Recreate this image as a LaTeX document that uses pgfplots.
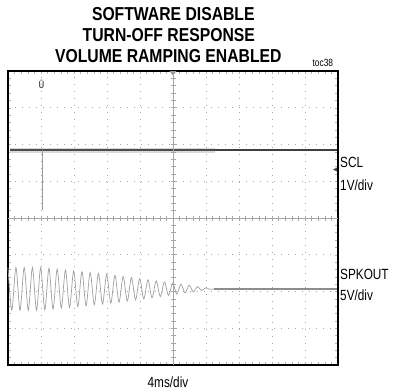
\documentclass[border=0pt]{standalone}
\usepackage{fontspec}
\setmainfont{Liberation Sans}[FakeStretch=0.80]
\newfontfamily\titlefont{Liberation Sans}[FakeStretch=0.84]
\usepackage{pgfplots}
\pgfplotsset{compat=1.18}
\begin{document}
\begin{tikzpicture}[x=1bp,y=1bp]
\path[use as bounding box] (-8,-26) rectangle (386,365);
\begin{axis}[
  at={(0,0)}, anchor=south west,
  scale only axis, width=330bp, height=294bp,
  xmin=0, xmax=10, ymin=0, ymax=8,
  xtick={0,...,10}, ytick={0,...,8},
  xticklabels={}, yticklabels={},
  minor x tick num=4, minor y tick num=4,
  tick align=inside,
  major tick length=3bp, minor tick length=3bp,
  tick style={gray!60, line width=0.5bp},
  grid=major,
  major grid style={gray!70, line width=0.7bp, dash pattern=on 0.7bp off 6.3bp},
  axis line style={black, line width=1.6bp},
  clip=false,
]
% SCL trace: noisy band, core and spike
\addplot[gray!30, line width=5bp] coordinates {(0.05,5.85) (6.27,5.85)};
\addplot[black!70, line width=2.6bp] coordinates {(0.05,5.85) (6.27,5.85)};
\addplot[black!75, line width=2.2bp] coordinates {(6.27,5.85) (9.98,5.85)};
\addplot[gray!80, line width=0.6bp] coordinates {(1.03,5.85) (1.03,4.22)};
% SPKOUT trace
\addplot[gray!75, line width=0.7bp, smooth] coordinates {
(0.00,2.65) (0.115,1.49) (0.24,2.65) (0.365,1.49) (0.49,2.65) (0.615,1.49)
(0.74,2.65) (0.865,1.49) (0.99,2.65) (1.115,1.50) (1.24,2.63) (1.365,1.52)
(1.49,2.61) (1.615,1.55) (1.74,2.58) (1.865,1.57) (1.99,2.56) (2.115,1.59)
(2.24,2.54) (2.365,1.61) (2.49,2.52) (2.615,1.64) (2.74,2.49) (2.865,1.66)
(2.99,2.47) (3.115,1.68) (3.24,2.44) (3.365,1.71) (3.49,2.41) (3.615,1.74)
(3.74,2.38) (3.865,1.77) (3.99,2.35) (4.115,1.80) (4.24,2.32) (4.365,1.83)
(4.49,2.29) (4.615,1.86) (4.74,2.26) (4.865,1.89) (4.99,2.23) (5.115,1.93)
(5.24,2.20) (5.365,1.96) (5.49,2.17) (5.615,1.99) (5.74,2.13) (5.865,2.03)
(5.99,2.10) (6.115,2.06) (6.24,2.07)
};
\addplot[gray!90, line width=1.3bp] coordinates {(6.24,2.07) (9.98,2.07)};
\end{axis}
% centre crosshair
\draw[gray!70, line width=0.8bp] (165,0) -- (165,294);
\draw[gray!70, line width=0.8bp] (0,147) -- (330,147);
\foreach \i in {1,...,39} {
  \draw[gray!70, line width=0.6bp] (162.5,\i*7.35) -- (167.5,\i*7.35);
}
\foreach \i in {1,...,49} {
  \draw[gray!70, line width=0.6bp] (\i*6.6,144.5) -- (\i*6.6,149.5);
}
% markers
\fill[gray!80] (161.5,294) -- (168.5,294) -- (165,289.5) -- cycle;
\node[text=gray!70!black, font=\fontsize{10}{10}\selectfont\bfseries, inner sep=0pt] at (33.5,281) {Ū};
\fill[black!70] (325,195.5) -- (329,197.5) -- (329,193.5) -- cycle;
% labels
\node[anchor=base, inner sep=0pt, font=\titlefont\bfseries\fontsize{18.8}{20}\selectfont] at (165.3,344.3) {SOFTWARE DISABLE};
\node[anchor=base, inner sep=0pt, font=\titlefont\bfseries\fontsize{18.8}{20}\selectfont] at (160.8,323.7) {TURN-OFF RESPONSE};
\node[anchor=base, inner sep=0pt, font=\titlefont\bfseries\fontsize{18.8}{20}\selectfont] at (160.3,302.3) {VOLUME RAMPING ENABLED};
\node[anchor=base east, inner sep=0pt, font=\fontsize{10.5}{12}\selectfont] at (325.3,298.3) {toc38};
\node[anchor=base west, inner sep=0pt, font=\fontsize{14.8}{16}\selectfont] at (332,198) {SCL};
\node[anchor=base west, inner sep=0pt, font=\fontsize{14.8}{16}\selectfont] at (332,175) {1V/div};
\node[anchor=base west, inner sep=0pt, font=\fontsize{14.8}{16}\selectfont] at (332,86) {SPKOUT};
\node[anchor=base west, inner sep=0pt, font=\fontsize{14.8}{16}\selectfont] at (332,65) {5V/div};
\node[anchor=base, inner sep=0pt, font=\fontsize{14.8}{16}\selectfont] at (160,-22) {4ms/div};
\end{tikzpicture}
\end{document}
